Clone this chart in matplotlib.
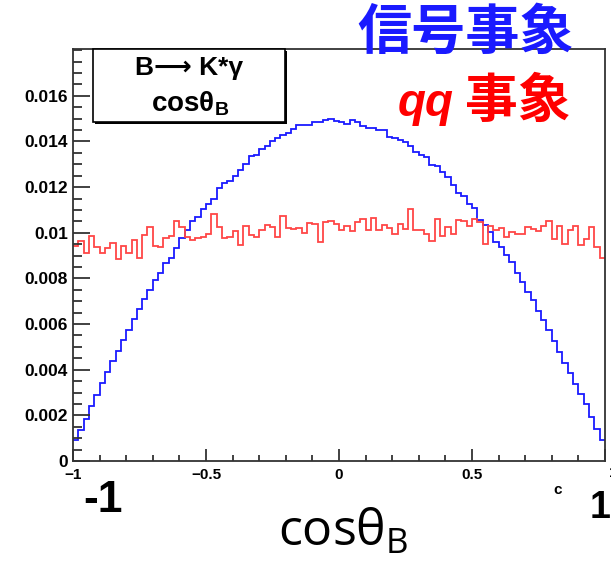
import numpy as np
import matplotlib
matplotlib.use('Agg')
import matplotlib.pyplot as plt
from matplotlib.patches import Rectangle
from matplotlib.ticker import MultipleLocator

# bin contents in units of 1e-3, 100 bins over cos(theta_B) in [-1, 1]
signal = [0.90, 1.37, 1.86, 2.39, 2.90, 3.41, 3.90, 4.38, 4.83, 5.31,
          5.72, 6.22, 6.67, 7.11, 7.51, 7.95, 8.24, 8.68, 8.90, 9.35,
          9.77, 10.14, 10.50, 10.69, 11.03, 11.26, 11.50, 11.97, 12.18, 12.26,
          12.49, 12.74, 12.99, 13.37, 13.40, 13.69, 13.81, 14.01, 14.16, 14.28,
          14.35, 14.54, 14.71, 14.71, 14.74, 14.83, 14.83, 14.93, 14.98, 14.89,
          14.83, 14.75, 14.92, 14.86, 14.66, 14.60, 14.57, 14.50, 14.52, 14.20,
          14.13, 14.06, 13.98, 13.81, 13.54, 13.40, 13.32, 12.96, 12.92, 12.67,
          12.45, 12.08, 11.72, 11.61, 11.28, 11.08, 10.55, 10.33, 10.04, 9.60,
          9.38, 9.01, 8.72, 8.24, 7.84, 7.40, 7.04, 6.57, 6.16, 5.72,
          5.26, 4.77, 4.29, 3.85, 3.39, 2.95, 2.51, 1.92, 1.41, 0.90]

qq = [9.42, 9.64, 9.13, 9.85, 9.38, 9.12, 9.35, 9.57, 8.84, 9.41,
      9.12, 9.70, 8.90, 9.89, 10.23, 9.42, 9.38, 9.77, 9.85, 10.50,
      10.23, 9.82, 9.67, 9.79, 9.82, 9.93, 10.80, 10.24, 9.77, 9.83,
      10.07, 9.45, 10.30, 9.89, 9.83, 10.11, 10.36, 10.26, 9.83, 10.74,
      10.20, 10.15, 10.20, 9.99, 10.43, 10.39, 9.60, 10.45, 10.50, 10.40,
      10.11, 10.30, 10.07, 10.45, 10.59, 10.12, 10.65, 10.14, 10.36, 10.21,
      9.95, 10.40, 10.17, 11.05, 10.12, 10.10, 9.96, 9.66, 10.59, 9.85,
      10.24, 9.95, 10.56, 10.50, 10.30, 10.59, 10.48, 9.50, 10.29, 10.14,
      10.21, 9.83, 10.04, 9.93, 9.93, 10.23, 10.15, 10.07, 10.29, 10.50,
      9.74, 10.29, 9.52, 10.10, 10.29, 9.48, 9.74, 10.23, 9.38, 8.91]

ytick_vals = [0, 0.002, 0.004, 0.006, 0.008, 0.010, 0.012, 0.014, 0.016]
ytick_labels = ['0', '0.002', '0.004', '0.006', '0.008', '0.01', '0.012', '0.014', '0.016']
xtick_vals = [-1, -0.5, 0, 0.5, 1]
xtick_labels = ['\u22121', '\u22120.5', '0', '0.5', '']

plt.rcParams['font.family'] = ['Liberation Sans', 'DejaVu Sans']
plt.rcParams['font.weight'] = 'bold'

W, H = 611, 563
fig = plt.figure(figsize=(W / 100, H / 100), dpi=100)


def fx(px):
    return px / W


def fy(py):
    return 1 - py / H


ax = fig.add_axes([fx(73), fy(461), (605 - 73) / W, (461 - 49) / H])

edges = np.linspace(-1, 1, len(signal) + 1)
ax.stairs(np.array(signal) * 1e-3, edges, color='#1a1aff', lw=1.3, baseline=None)
ax.stairs(np.array(qq) * 1e-3, edges, color='#ff4646', lw=1.3, baseline=None)

ax.set_xlim(-1, 1)
ax.set_ylim(0, 0.01805)
ax.set_yticks(ytick_vals)
ax.set_yticklabels(ytick_labels)
ax.set_xticks(xtick_vals)
ax.set_xticklabels(xtick_labels)
ax.yaxis.set_minor_locator(MultipleLocator(0.0005))
ax.xaxis.set_minor_locator(MultipleLocator(0.1))
ax.tick_params(which='both', direction='in', top=False, right=False, color='#333333', width=1.3)
ax.tick_params(axis='y', which='major', length=12, pad=3.5, labelsize=12.5)
ax.tick_params(axis='y', which='minor', length=6.5)
ax.tick_params(axis='x', which='major', length=8.5, pad=5, labelsize=11)
ax.tick_params(axis='x', which='minor', length=4.3)
for s in ax.spines.values():
    s.set_color('#333333')
    s.set_linewidth(1.3)

# cut-off "1" label at the right edge
fig.text(fx(613), fy(473), '1', fontsize=11, ha='center', va='center')

# ROOT-like title box with shadow
fig.add_artist(Rectangle((fx(95), fy(124)), (285 - 93) / W, (122 - 49) / H,
                         transform=fig.transFigure, facecolor='black', edgecolor='none', zorder=3))
fig.add_artist(Rectangle((fx(93), fy(122)), (285 - 93) / W, (122 - 49) / H,
                         transform=fig.transFigure, facecolor='white', edgecolor='black',
                         lw=1.2, zorder=4))
fig.text(fx(189), fy(68), 'B\u27f6 K*\u03b3', fontsize=19, ha='center', va='center', zorder=5)
fig.text(fx(190), fy(104), r'$\mathregular{cosθ_B}$', fontsize=20, ha='center',
         va='center', family='Liberation Sans', zorder=5)

# big annotations around the axis
fig.text(fx(103), fy(500), '-1', fontsize=32, ha='center', va='center')
fig.text(fx(600), fy(508), '1', fontsize=27, ha='center', va='center')
fig.text(fx(558), fy(490), 'c', fontsize=11, ha='center', va='center')
fig.text(fx(343), fy(533), r'$\mathregular{cosθ_B}$', fontsize=36, ha='center',
         va='center', family='Open Sans', fontweight='normal')

fig.text(fx(466), fy(33), '信号事象', fontsize=39, ha='center', va='center',
         family='Noto Sans CJK JP', fontweight='bold', color='#1a1aff')
fig.text(fx(398), fy(116), 'qq', fontsize=33, ha='left', va='baseline',
         family='Liberation Sans', fontweight='bold', style='italic', color='#ff0000')
fig.text(fx(465), fy(101), '事象', fontsize=38, ha='left', va='center',
         family='Noto Sans CJK JP', fontweight='bold', color='#ff0000')

fig.savefig('out.png', dpi=100)
